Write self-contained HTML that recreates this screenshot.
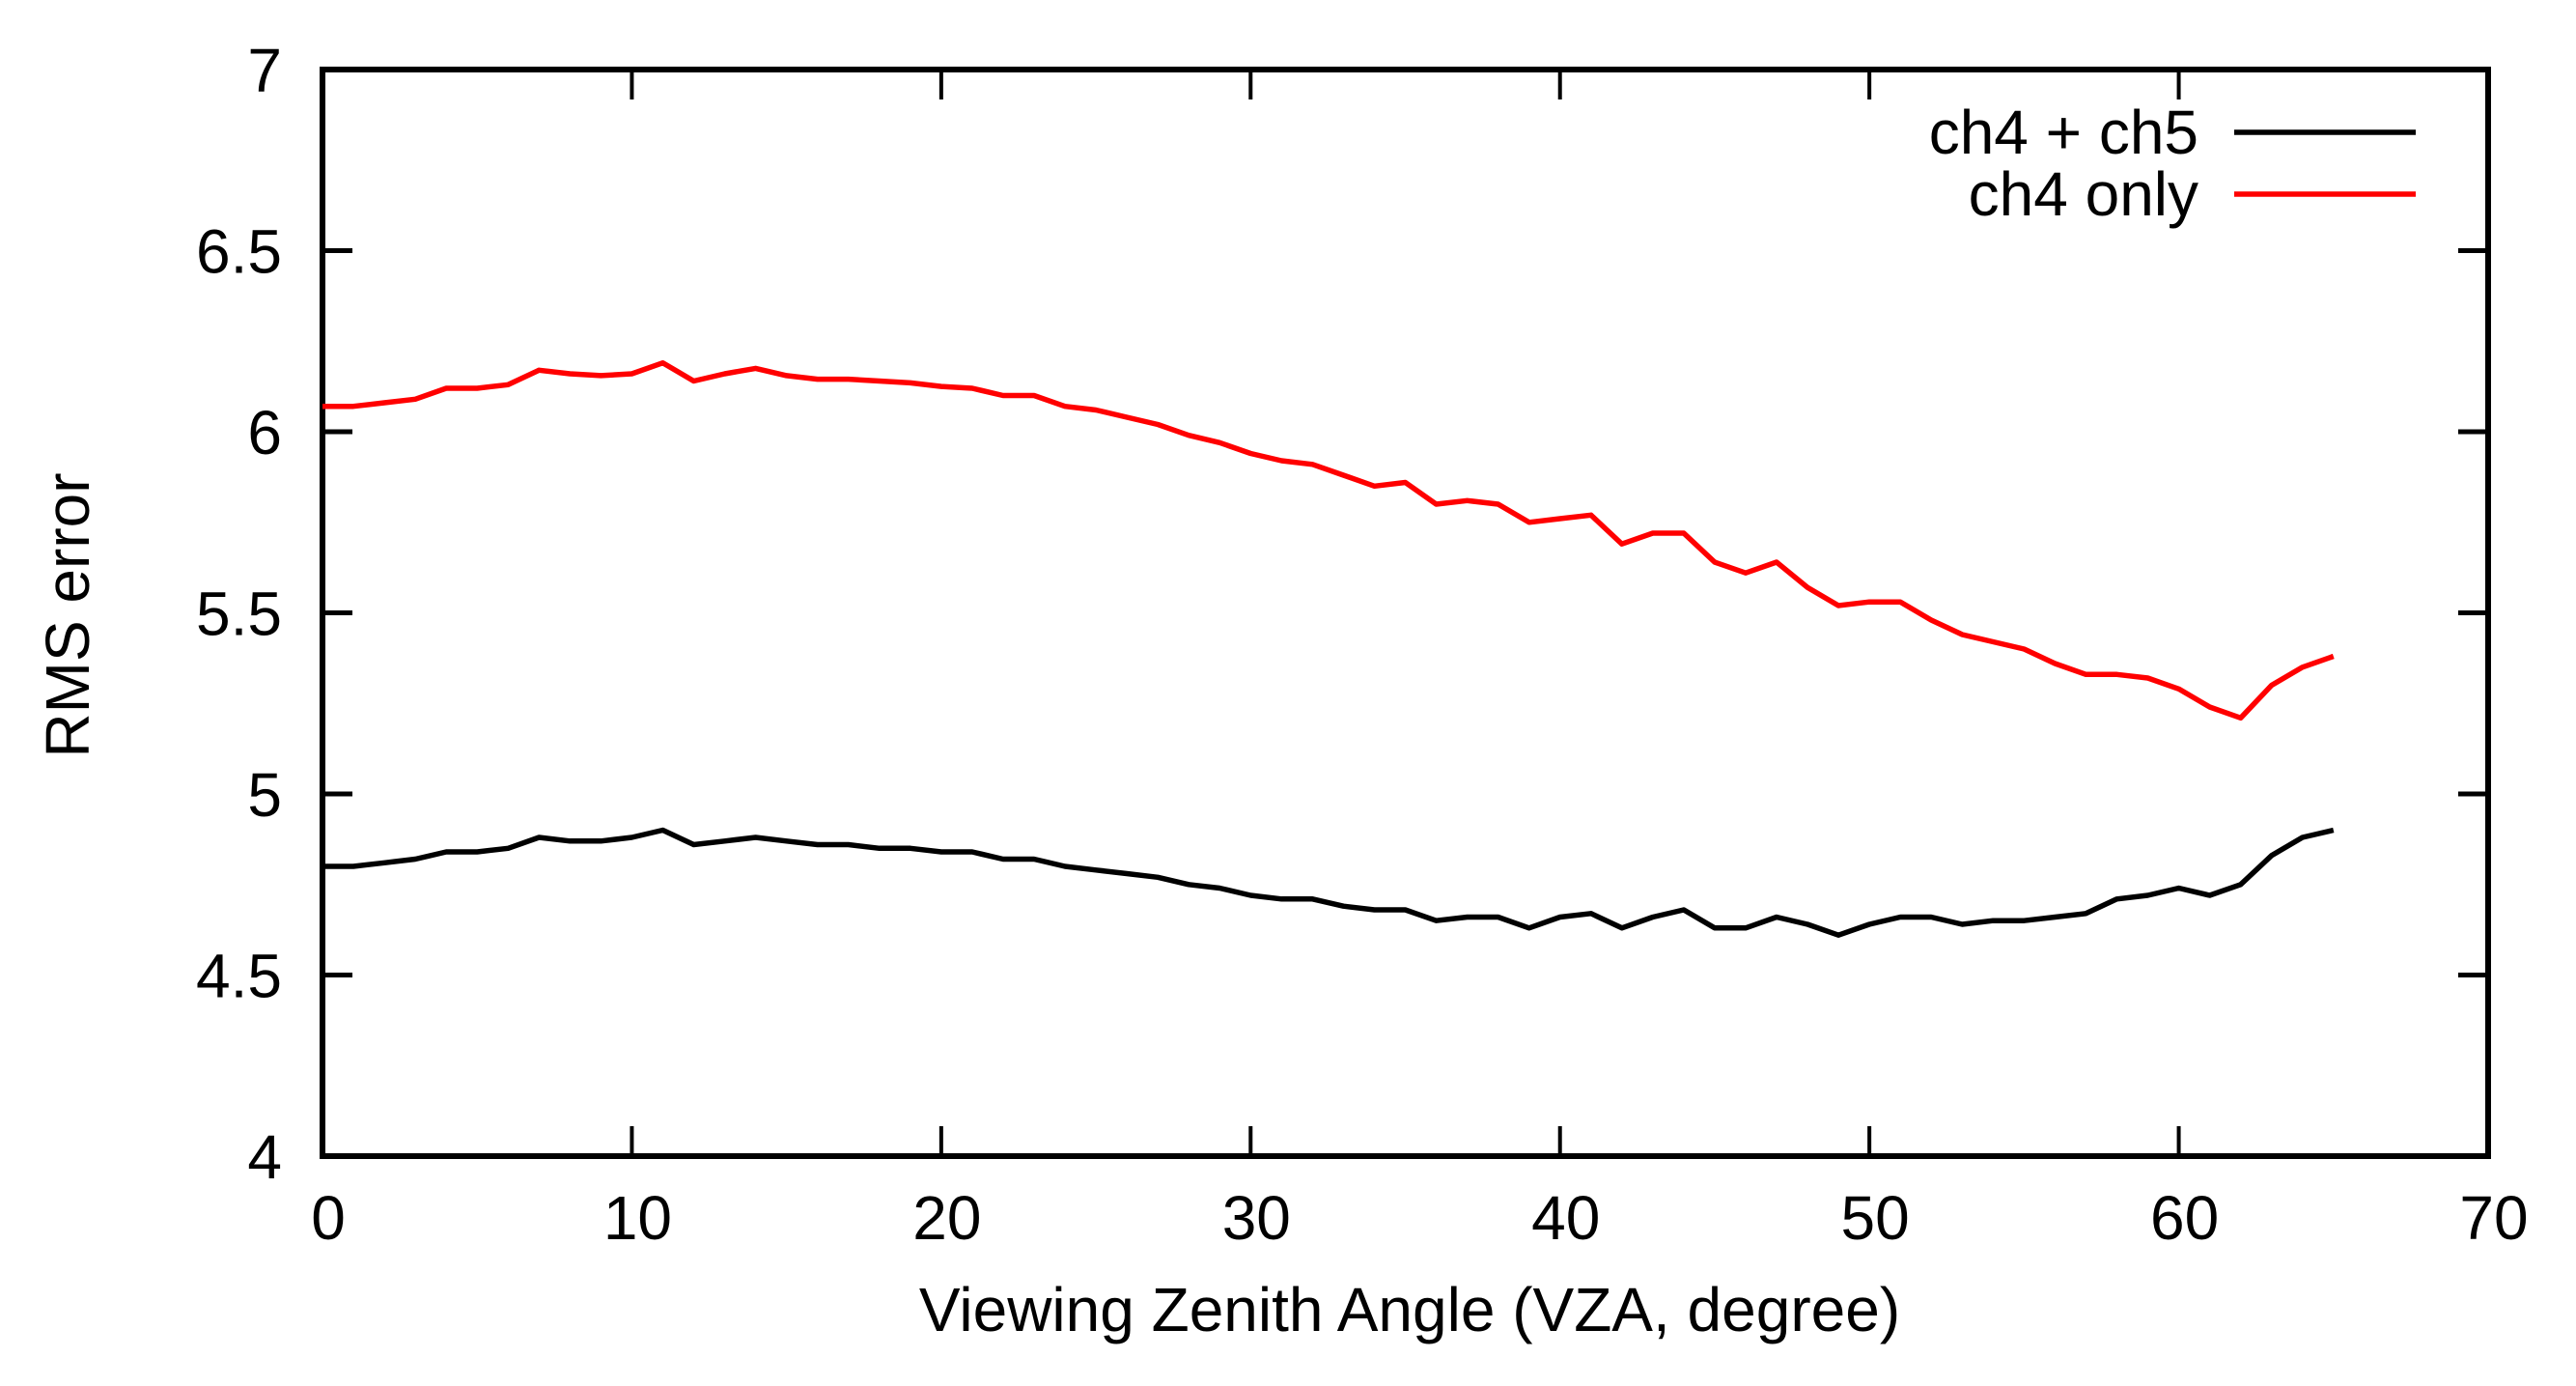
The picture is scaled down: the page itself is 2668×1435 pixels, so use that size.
<!DOCTYPE html>
<html><head><meta charset="utf-8"><style>
html,body{margin:0;padding:0;background:#fff;}
svg{display:block;font-family:"Liberation Sans Narrow","Liberation Sans",sans-serif;}
</style></head><body>
<svg id="chart" width="2668" height="1435" viewBox="0 0 2668 1435">
<g id="axes"></g>
<g id="series"></g>
<g id="legend"></g>
<text x="1460" y="1378" text-anchor="middle" font-size="64">Viewing Zenith Angle (VZA, degree)</text>
<text x="0" y="0" text-anchor="middle" font-size="64" transform="translate(92,637) rotate(-90)">RMS error</text>
</svg>
<script>
const xTicks = [0,10,20,30,40,50,60,70];
const yTicks = [4,4.5,5,5.5,6,6.5,7];
const yTickLabels = ["4","4.5","5","5.5","6","6.5","7"];
const seriesNames = ["ch4 + ch5","ch4 only"];
const seriesColors = ["#000000","#ff0000"];
const vza = Array.from({length:66},(_,i)=>i);
const ch45 = [4.80,4.80,4.81,4.82,4.84,4.84,4.85,4.88,4.87,4.87,4.88,4.90,4.86,4.87,4.88,4.87,4.86,4.86,4.85,4.85,4.84,4.84,4.82,4.82,4.80,4.79,4.78,4.77,4.75,4.74,4.72,4.71,4.71,4.69,4.68,4.68,4.65,4.66,4.66,4.63,4.66,4.67,4.63,4.66,4.68,4.63,4.63,4.66,4.64,4.61,4.64,4.66,4.66,4.64,4.65,4.65,4.66,4.67,4.71,4.72,4.74,4.72,4.75,4.83,4.88,4.90];
const ch4 = [6.07,6.07,6.08,6.09,6.12,6.12,6.13,6.17,6.16,6.155,6.16,6.19,6.14,6.16,6.175,6.155,6.145,6.145,6.14,6.135,6.125,6.12,6.10,6.10,6.07,6.06,6.04,6.02,5.99,5.97,5.94,5.92,5.91,5.88,5.85,5.86,5.80,5.81,5.80,5.75,5.76,5.77,5.69,5.72,5.72,5.64,5.61,5.64,5.57,5.52,5.53,5.53,5.48,5.44,5.42,5.40,5.36,5.33,5.33,5.32,5.29,5.24,5.21,5.30,5.35,5.38];

const NS="http://www.w3.org/2000/svg";
const L=334,R=2577,T=72,B=1197;
const xs=v=>L+(v-0)/(70-0)*(R-L);
const ys=v=>B-(v-4)/(7-4)*(B-T);
function mk(tag,attrs,parent){const e=document.createElementNS(NS,tag);for(const k in attrs)e.setAttribute(k,attrs[k]);parent.appendChild(e);return e;}
const axes=document.getElementById('axes');
const frame=mk('rect',{x:L,y:T,width:R-L,height:B-T,fill:'none',stroke:'#000','stroke-width':6},axes);


xTicks.forEach(t=>{
  const x=xs(t);
  const a=mk('line',{x1:x,y1:B,x2:x,y2:B-31,stroke:'#000','stroke-width':4},axes);
  
  
  const b=mk('line',{x1:x,y1:T,x2:x,y2:T+31,stroke:'#000','stroke-width':4},axes);
  
  
  const tx=mk('text',{x:x+6,y:1283,'text-anchor':'middle','font-size':64},axes);
  tx.textContent=String(t);
  
  
});
yTicks.forEach((t,i)=>{
  const y=ys(t);
  const a=mk('line',{x1:L,y1:y,x2:L+31,y2:y,stroke:'#000','stroke-width':5},axes);
  
  
  const b=mk('line',{x1:R,y1:y,x2:R-31,y2:y,stroke:'#000','stroke-width':5},axes);
  
  
  const tx=mk('text',{x:292,y:y+23,'text-anchor':'end','font-size':64},axes);
  tx.textContent=yTickLabels[i];
  
  
});
const ser=document.getElementById('series');
[ch45,ch4].forEach((vals,si)=>{
  const d=vals.map((v,i)=>(i?'L':'M')+xs(vza[i]).toFixed(1)+','+ys(v).toFixed(1)).join(' ');
  const p=mk('path',{d:d,fill:'none',stroke:seriesColors[si],'stroke-width':5.5,'stroke-linejoin':'round'},ser);
  
  
});
const leg=document.getElementById('legend');
seriesNames.forEach((n,i)=>{
  const y=137+i*64;
  const tx=mk('text',{x:2277,y:y+22,'text-anchor':'end','font-size':64},leg);
  tx.textContent=n;
  
  
  const ln=mk('line',{x1:2314,y1:y,x2:2502,y2:y,stroke:seriesColors[i],'stroke-width':5.5},leg);
  
  
});
</script>
</body></html>
